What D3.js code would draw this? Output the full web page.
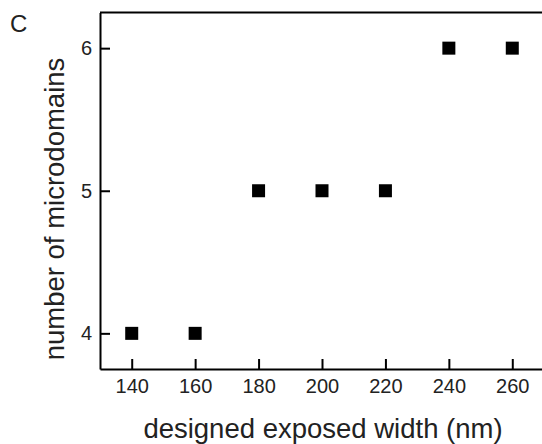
<!DOCTYPE html>
<html>
<head>
<meta charset="utf-8">
<script src="https://cdn.jsdelivr.net/npm/d3@7"></script>
<style>
  html, body { margin: 0; padding: 0; background: #fff; }
  svg { display: block; }
</style>
</head>
<body>
<div id="chart"></div>
<script>
// designed exposed width vs number of microdomains
const widths = [140, 160, 180, 200, 220, 240, 260];
const domains = [4, 4, 5, 5, 5, 6, 6];
const xTicks = [140, 160, 180, 200, 220, 240, 260];
const yTicks = [4, 5, 6];

const W = 542, H = 444;
const plotLeft = 100, plotTop = 12.5, plotBottom = 369;

const svg = d3.select('#chart').append('svg')
  .attr('width', W).attr('height', H);

const x = d3.scaleLinear().domain([130, 270]).range([plotLeft, 544]);
const y = d3.scaleLinear().domain([3.75, 6.25]).range([plotBottom, plotTop]);

const font = 'Arial, "Liberation Sans", sans-serif';
const textColor = '#222';

// bottom axis, ticks pointing inward
const xAxis = svg.append('g')
  .attr('transform', `translate(0,${plotBottom})`)
  .call(d3.axisBottom(x).tickValues(xTicks).tickFormat(d3.format('d'))
    .tickSizeInner(-10).tickSizeOuter(0).tickPadding(10));

// left axis
const yAxis = svg.append('g')
  .attr('transform', `translate(${plotLeft},0)`)
  .call(d3.axisLeft(y).tickValues(yTicks).tickFormat(d3.format('d'))
    .tickSizeInner(-10).tickSizeOuter(0).tickPadding(8));

// top frame line
svg.append('line')
  .attr('x1', plotLeft).attr('x2', W)
  .attr('y1', y(6.25)).attr('y2', y(6.25))
  .attr('stroke', '#000').attr('stroke-width', 2);

[xAxis, yAxis].forEach(a => {
  a.select('.domain').attr('stroke', '#000').attr('stroke-width', 2);
  a.selectAll('.tick line').attr('stroke', '#000').attr('stroke-width', 2);
  a.selectAll('.tick text')
    .attr('fill', textColor)
    .attr('font-size', '20px')
    .attr('font-family', font);
});
xAxis.selectAll('.tick text').attr('dy', '0.71em');

// markers
const size = 13;
svg.append('g').selectAll('rect')
  .data(widths.map((w, i) => ({ w, n: domains[i] })))
  .join('rect')
  .attr('x', d => x(d.w) - size / 2)
  .attr('y', d => y(d.n) - size / 2)
  .attr('width', size).attr('height', size)
  .attr('fill', '#000');

// axis titles
svg.append('text')
  .attr('x', 323).attr('y', 438)
  .attr('text-anchor', 'middle')
  .attr('fill', textColor)
  .attr('font-size', '27.5px')
  .attr('font-family', font)
  .text('designed exposed width (nm)');

svg.append('text')
  .attr('transform', 'translate(64,209) rotate(-90)')
  .attr('text-anchor', 'middle')
  .attr('fill', textColor)
  .attr('font-size', '27.5px')
  .attr('font-family', font)
  .text('number of microdomains');

// panel letter
svg.append('text')
  .attr('x', 10).attr('y', 32)
  .attr('fill', textColor)
  .attr('font-size', '24px')
  .attr('font-family', font)
  .text('C');
</script>
</body>
</html>
